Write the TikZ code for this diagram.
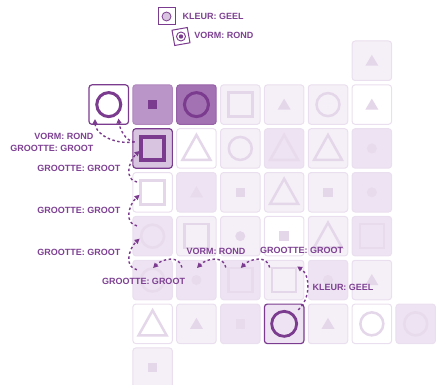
\documentclass[tikz,border=0pt]{standalone}
\usepackage{fontspec}
\setmainfont{Liberation Sans}
\usepackage{tikz}
\usetikzlibrary{arrows.meta,calc,positioning}

\definecolor{paars}{HTML}{7B3B8E}
\definecolor{tekstpaars}{HTML}{7E4193}
\definecolor{vaklicht}{HTML}{F5F0F7}
\definecolor{vakmidden}{HTML}{EEE3F2}
\definecolor{vakzacht}{HTML}{D8C4E0}
\definecolor{vakmedium}{HTML}{BA95C7}
\definecolor{vakdonker}{HTML}{A372B3}
\definecolor{randvaag}{HTML}{EADFEE}
\definecolor{symvaag}{HTML}{E5D7EA}
\definecolor{symmidden}{HTML}{E7DBEC}

% symbolen in een vak
\newcommand{\rondgroot}[2]{\draw[#2, line width=2.5pt] (#1.center) circle (11.5pt);}
\newcommand{\rondklein}[2]{\fill[#2] (#1.center) circle (5pt);}
\newcommand{\vierkantgroot}[2]{\draw[#2, line width=2.5pt] ([shift={(-12,-12)}]#1.center) rectangle +(24,24);}
\newcommand{\vierkantklein}[2]{\fill[#2] ([shift={(-4.75,-4.75)}]#1.center) rectangle +(9.5,9.5);}
\newcommand{\driehoekgroot}[2]{\draw[#2, line width=2.5pt] ([shift={(0,-13.5)}]#1.center) -- ([shift={(14,11.5)}]#1.center) -- ([shift={(-14,11.5)}]#1.center) -- cycle;}
\newcommand{\driehoekklein}[2]{\fill[#2] ([shift={(0,-6)}]#1.center) -- ([shift={(6.5,5)}]#1.center) -- ([shift={(-6.5,5)}]#1.center) -- cycle;}

\tikzset{
    vak/.style={draw=randvaag, line width=1pt, rounded corners=3pt, minimum size=39.5pt, inner sep=0pt},
    vakaan/.style={draw=paars, line width=1.2pt},
    tekst/.style={font=\bfseries\fontsize{9}{12}\selectfont, text=tekstpaars, inner sep=0pt},
    pad/.style={draw=paars, line width=1.4pt, dash pattern=on 2.5pt off 2.5pt, -{Triangle[length=5pt,width=5pt]}}
}

\begin{document}
\begin{tikzpicture}[x=1pt, y=-1pt]
    \useasboundingbox (0,0) rectangle (439,385);

    % Legenda
    \node[draw=paars, line width=1pt, minimum size=17pt, inner sep=0pt] (leg1) at (166.5,16.5) {};
    \draw[paars, fill=vakzacht, line width=0.8pt] (leg1.center) circle (4.5pt);
    \node[tekst, right=7pt of leg1] (legtekst1) {KLEUR: GEEL};
    \node[draw=paars, line width=1pt, minimum size=15.5pt, inner sep=0pt, rotate=10] (leg2) at (181,36.5) {};
    \draw[paars, line width=0.9pt] (leg2.center) circle (4.5pt);
    \fill[paars] (leg2.center) circle (2.2pt);
    \node[tekst, right=5pt of leg2] (legtekst2) {VORM: ROND};

    % Vakken van het raster
    \foreach \r/\k/\kl/\sym/\sk in {
        0/6/vaklicht/driehoekklein/symvaag,
        1/3/vaklicht/vierkantgroot/symvaag, 1/4/vaklicht/driehoekklein/symvaag,
        1/5/vaklicht/rondgroot/symvaag, 1/6/white/driehoekklein/symvaag,
        2/2/white/driehoekgroot/symvaag, 2/3/vaklicht/rondgroot/symvaag,
        2/4/vakmidden/driehoekgroot/symmidden, 2/5/vaklicht/driehoekgroot/symvaag,
        2/6/vakmidden/rondklein/symmidden,
        3/1/white/vierkantgroot/symvaag, 3/2/vakmidden/driehoekklein/symmidden,
        3/3/vaklicht/vierkantklein/symvaag, 3/4/vaklicht/driehoekgroot/symvaag,
        3/5/vaklicht/vierkantklein/symvaag, 3/6/vakmidden/rondklein/symmidden,
        4/1/vakmidden/rondgroot/symmidden, 4/2/vaklicht/vierkantgroot/symvaag,
        4/3/vaklicht/rondklein/symvaag, 4/4/white/vierkantklein/symvaag,
        4/5/vaklicht/driehoekgroot/symvaag, 4/6/vakmidden/vierkantgroot/symmidden,
        5/1/vakmidden/rondgroot/symmidden, 5/2/vakmidden/rondklein/symmidden,
        5/3/vakmidden/vierkantgroot/symmidden, 5/4/vaklicht/vierkantgroot/symvaag,
        5/5/vakmidden/rondklein/symmidden, 5/6/vaklicht/driehoekklein/symvaag,
        6/1/white/driehoekgroot/symvaag, 6/2/vaklicht/driehoekklein/symvaag,
        6/3/vakmidden/vierkantklein/symmidden, 6/5/vaklicht/driehoekklein/symvaag,
        6/6/white/rondgroot/symvaag, 6/7/vakmidden/rondgroot/symmidden,
        7/1/vaklicht/vierkantklein/symvaag}
    {
        \node[vak, fill=\kl] (v\r\k) at ({108.75+43.85*\k},{60.75+43.85*\r}) {};
        \csname\sym\endcsname{v\r\k}{\sk}
    }

    % Vakken op het pad
    \node[vak, vakaan, fill=white] (v10) at (108.75,104.6) {};
    \draw[paars, line width=3pt] (v10.center) circle (12pt);
    \node[vak, fill=vakmedium, draw=vakmedium!85!paars] (v11) at (152.6,104.6) {};
    \vierkantklein{v11}{paars}
    \node[vak, fill=vakdonker, draw=vakdonker!70!paars] (v12) at (196.45,104.6) {};
    \draw[paars, line width=3pt] (v12.center) circle (12pt);
    \node[vak, vakaan, fill=vakzacht] (v21) at (152.6,148.45) {};
    \draw[paars, line width=3.5pt] ([shift={(-11.5,-11.5)}]v21.center) rectangle +(23,23);
    \node[vak, vakaan, fill=vakmidden] (v64) at (284.15,323.85) {};
    \draw[paars, line width=2.8pt] (v64.center) circle (12.5pt);

    % Pijlen
    \draw[pad] ([shift={(-18,-6.5)}]v21.center) .. controls +(-22,3) and +(0,14) .. ([shift={(-13.75,14.5)}]v10.center);
    \draw[pad] ([shift={(-18,-6.5)}]v21.center) .. controls +(-10,-1) and +(1,9) .. ([shift={(9.75,13.9)}]v10.center);
    \foreach \a/\b in {3/2,4/3,5/4}
        \draw[pad] ([shift={(-15.6,-10.3)}]v\a1.center) .. controls +(-13,-2) and +(-11,10) .. ([shift={(-13,2.5)}]v\b1.center);
    \foreach \a/\b in {2/1,3/2,4/3}
        \draw[pad] ([shift={(-14.5,-12.5)}]v5\a.center) .. controls +(-2,-12) and +(10,-10) .. ([shift={(0.5,-12)}]v5\b.center);
    \draw[pad] ([shift={(14,-14)}]v64.center) .. controls +(12,-10) and +(14,9) .. ([shift={(13,-13.5)}]v54.center);

    % Labels bij de pijlen
    \node[tekst, anchor=east, align=right] (lab1) at (93.5,142) {VORM: ROND\\GROOTTE: GROOT};
    \node[tekst, anchor=east] (lab2) at (120.5,168) {GROOTTE: GROOT};
    \node[tekst, anchor=east] (lab3) at (120.5,210.5) {GROOTTE: GROOT};
    \node[tekst, anchor=east] (lab4) at (120.5,252.5) {GROOTTE: GROOT};
    \node[tekst] (lab5) at (143.5,281.5) {GROOTTE: GROOT};
    \node[tekst] (lab6) at (216,251) {VORM: ROND};
    \node[tekst] (lab7) at (301.5,250.5) {GROOTTE: GROOT};
    \node[tekst] (lab8) at (343,287.5) {KLEUR: GEEL};
\end{tikzpicture}
\end{document}
